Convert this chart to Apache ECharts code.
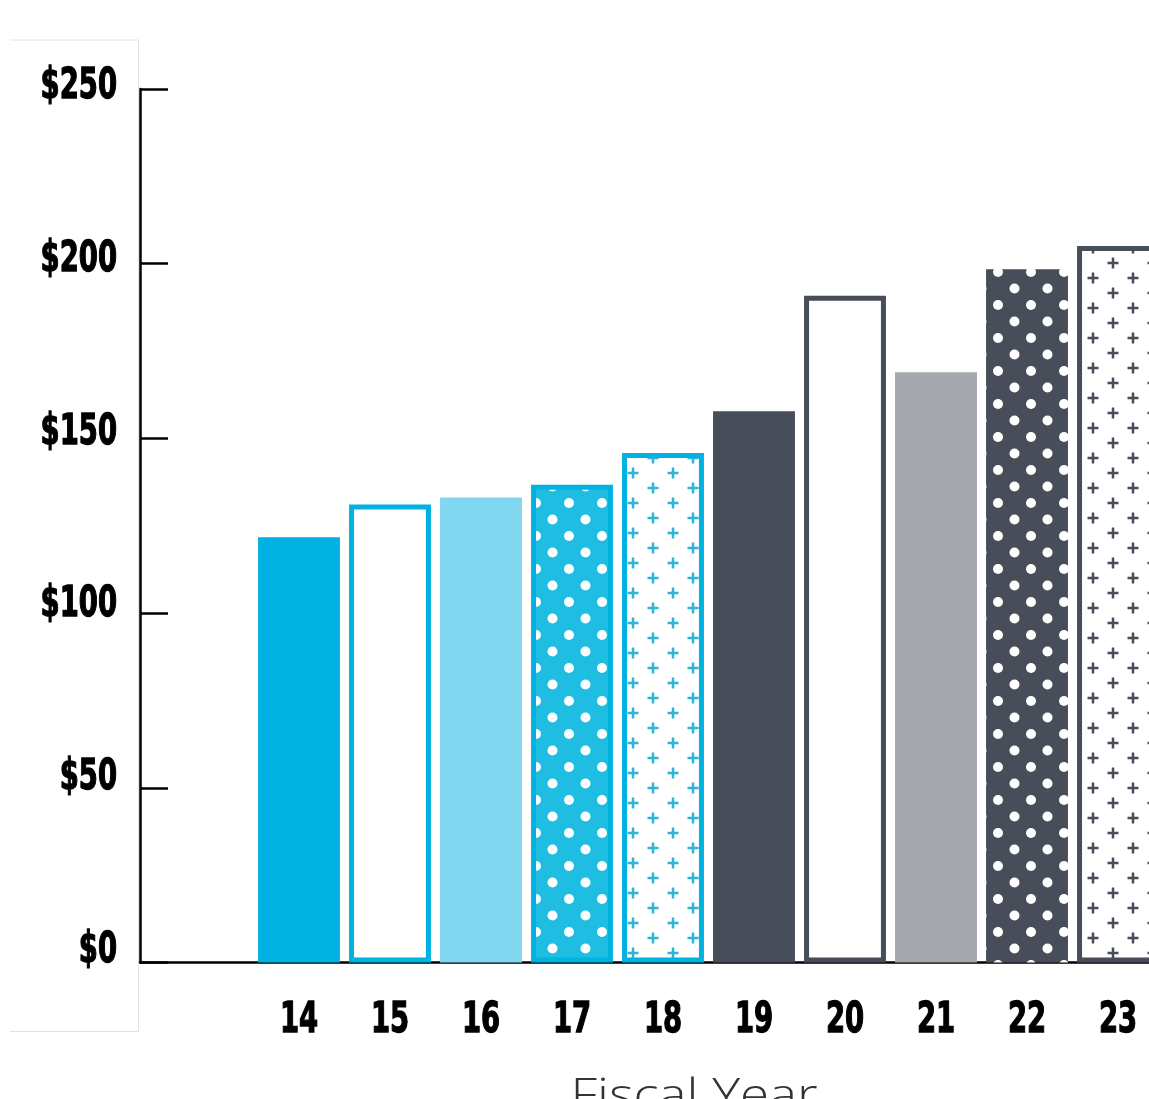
<!DOCTYPE html>
<html>
<head>
<meta charset="utf-8">
<script src="https://cdn.jsdelivr.net/npm/echarts@6/dist/echarts.min.js"></script>
<style>
html,body{margin:0;padding:0;background:#fff;}
#chart{width:1149px;height:1099px;}
</style>
</head>
<body>
<div id="chart"></div>
<script>
// ---- data ----
const fiscalYears = ['14','15','16','17','18','19','20','21','22','23'];
const spending = [121.7, 131.1, 133.1, 136.7, 145.8, 157.8, 190.8, 168.9, 198.4, 205.1];
const yTicks = [0, 50, 100, 150, 200, 250];
const xTitle = 'Fiscal Year';

// ---- styles ----
const CYAN = '#00B2E2', CYAN_LIGHT = '#80D7EF', CYAN_MID = '#1FBDE1', CYAN_PLUS = '#2DB4D6';
const DARK = '#474D59', GREY = '#A4A7AE';

function dotPattern(bg) {
  const c = document.createElement('canvas');
  c.width = 33; c.height = 33;
  const g = c.getContext('2d');
  g.fillStyle = bg; g.fillRect(0, 0, 33, 33);
  g.fillStyle = '#ffffff';
  [[8, 8], [24.5, 24.5]].forEach(p => { g.beginPath(); g.arc(p[0], p[1], 5, 0, Math.PI * 2); g.fill(); });
  return c;
}
function plusPattern(col) {
  const c = document.createElement('canvas');
  c.width = 40; c.height = 30;
  const g = c.getContext('2d');
  g.fillStyle = '#ffffff'; g.fillRect(0, 0, 40, 30);
  g.strokeStyle = col; g.lineWidth = 2.5;
  [[13, 8], [33, 23]].forEach(p => {
    g.beginPath();
    g.moveTo(p[0] - 5.5, p[1]); g.lineTo(p[0] + 5.5, p[1]);
    g.moveTo(p[0], p[1] - 5.5); g.lineTo(p[0], p[1] + 5.5);
    g.stroke();
  });
  return c;
}
const looks = [
  { fill: CYAN },
  { fill: '#ffffff', stroke: CYAN },
  { fill: CYAN_LIGHT },
  { fill: { image: dotPattern(CYAN_MID), repeat: 'repeat' }, stroke: CYAN },
  { fill: { image: plusPattern(CYAN_PLUS), repeat: 'repeat' }, stroke: CYAN },
  { fill: DARK },
  { fill: '#ffffff', stroke: DARK },
  { fill: GREY },
  { fill: { image: dotPattern(DARK), repeat: 'repeat' } },
  { fill: { image: plusPattern(DARK), repeat: 'repeat' }, stroke: DARK }
];

const NUM_FONT = "'DejaVu Sans Condensed', 'DejaVu Sans', sans-serif";
const NUM_SCALE = 0.71;

// layout: plot area 140..1149 px; category band 91 px, first category centred at 299 px
const GRID_LEFT = 140, GRID_W = 1149 - 140, BAND = 91, FIRST_CENTER = 299;
const xMin = -(FIRST_CENTER - GRID_LEFT) / BAND;
const xMax = xMin + GRID_W / BAND;

const chart = echarts.init(document.getElementById('chart'), null, { renderer: 'canvas' });

chart.setOption({
  animation: false,
  backgroundColor: '#ffffff',
  grid: { left: GRID_LEFT, right: 0, top: 89, bottom: 136.5, containLabel: false },
  xAxis: {
    type: 'value', min: xMin, max: xMax,
    axisLine: { show: true, onZero: false, lineStyle: { color: '#000', width: 2.5 } },
    axisTick: { show: false }, axisLabel: { show: false }, splitLine: { show: false }
  },
  yAxis: {
    type: 'value', min: yTicks[0], max: yTicks[yTicks.length - 1], interval: yTicks[1] - yTicks[0],
    axisLine: { show: true, onZero: false, lineStyle: { color: '#000', width: 2.5 } },
    axisTick: { show: true, inside: true, length: 28, lineStyle: { color: '#000', width: 2.5 } },
    splitLine: { show: false },
    axisLabel: { show: false }
  },
  series: [{
    type: 'custom',
    data: spending.map((v, i) => [i, v]),
    clip: false,
    renderItem: function (params, api) {
      const i = api.value(0);
      const top = api.coord([i, api.value(1)]);
      const bot = api.coord([i, 0]);
      const bw = api.size([1, 0])[0] * 0.9;
      const look = looks[i];
      const lw = look.stroke ? 5 : 0;
      return {
        type: 'rect',
        shape: { x: top[0] - bw / 2 + lw / 2, y: top[1] + lw / 2, width: bw - lw, height: bot[1] - top[1] - lw },
        style: { fill: look.fill, stroke: look.stroke || null, lineWidth: lw }
      };
    }
  }]
});

// axis labels drawn as text placed through the chart's own scales
const graphics = [
  { type: 'polyline', shape: { points: [[10, 40], [138.5, 40], [138.5, 1031.5], [10, 1031.5]] },
    style: { stroke: '#e2e2e2', lineWidth: 1, fill: null }, z: -1 },
  { type: 'text', x: 694, y: 1097, scaleX: 1.2, style: { text: xTitle, x: 0, y: 0,
    fontFamily: "'Open Sans', 'Lato', sans-serif", fontWeight: 300, fontSize: 44, fill: '#333',
    align: 'center', verticalAlign: 'middle' } }
];
const maxTick = yTicks[yTicks.length - 1];
yTicks.forEach(v => {
  const p = chart.convertToPixel({ gridIndex: 0 }, [xMin, v]);
  const shift = -2 - 10 * (1 - v / maxTick);
  graphics.push({ type: 'text', x: 117, y: p[1] + shift, scaleX: NUM_SCALE,
    style: { text: '$' + v, x: 0, y: 0, align: 'right', verticalAlign: 'middle',
      fontFamily: NUM_FONT, fontWeight: 'bold', fontSize: 43, fill: '#000',
      stroke: '#000', lineWidth: 1.3 } });
});
fiscalYears.forEach((t, i) => {
  const p = chart.convertToPixel({ gridIndex: 0 }, [i, 0]);
  graphics.push({ type: 'text', x: p[0], y: 1021, scaleX: NUM_SCALE,
    style: { text: t, x: 0, y: 0, align: 'center', verticalAlign: 'middle',
      fontFamily: NUM_FONT, fontWeight: 'bold', fontSize: 43, fill: '#000',
      stroke: '#000', lineWidth: 1.3 } });
});
chart.setOption({ graphic: graphics });
</script>
</body>
</html>
